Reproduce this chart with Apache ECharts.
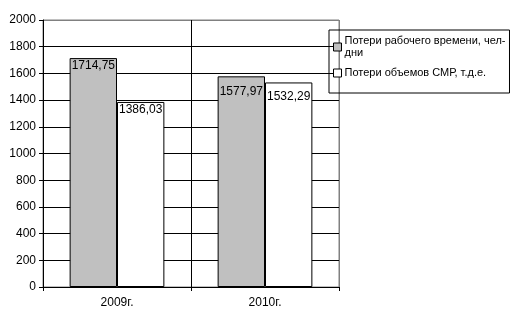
<!DOCTYPE html>
<html><head><meta charset="utf-8">
<script src="https://cdn.jsdelivr.net/npm/echarts@6/dist/echarts.min.js"></script>
<style>html,body{margin:0;padding:0;background:#fff}#c{width:515px;height:323px}</style>
</head><body><div id="c"></div>
<script>
const categories = ['2009г.', '2010г.'];
const seriesNames = ['Потери рабочего времени, чел-дни', 'Потери объемов СМР, т.д.е.'];
const lostTime = [1714.75, 1577.97];
const lostVolume = [1386.03, 1532.29];
const yTicks = [0, 200, 400, 600, 800, 1000, 1200, 1400, 1600, 1800, 2000];

const fmt = v => v.toFixed(2).replace('.', ',');
const font = 'Liberation Sans';
const labelDist = [[2, 9], [2, 8]];

function items(vals, si) {
  return vals.map((v, i) => ({
    value: v,
    label: { distance: labelDist[si][i] }
  }));
}

const chart = echarts.init(document.getElementById('c'), null, {renderer: 'canvas'});
chart.setOption({
  animation: false,
  backgroundColor: '#fff',
  textStyle: { fontFamily: font },
  grid: { left: 43, top: 20, right: 176, bottom: 36, show: true, borderColor: '#808080', borderWidth: 1 },
  legend: {
    orient: 'vertical', left: 329, top: 30, width: 180,
    borderColor: '#000', borderWidth: 1, padding: [5, 4, 14, 4],
    itemWidth: 8, itemHeight: 8, itemGap: 8, icon: 'rect',
    itemStyle: { borderWidth: 1, borderColor: '#000' },
    textStyle: { fontFamily: font, fontSize: 11, color: '#000', lineHeight: 12, padding: [0, 0, 0, -2] },
    formatter: n => n === seriesNames[0] ? 'Потери рабочего времени, чел-\nдни' : n,
    data: seriesNames
  },
  xAxis: {
    type: 'category', data: categories,
    axisLine: { lineStyle: { color: '#000', width: 1 } },
    axisTick: { show: true, length: 4, lineStyle: { color: '#000' } },
    axisLabel: { color: '#000', fontSize: 12, fontFamily: font, margin: 10 },
    splitLine: { show: true, lineStyle: { color: ['#000', '#000', '#808080'], width: 1 } }
  },
  yAxis: {
    type: 'value', min: yTicks[0], max: yTicks[yTicks.length - 1], interval: yTicks[1] - yTicks[0],
    axisLine: { show: true, lineStyle: { color: '#000', width: 1 } },
    axisTick: { show: true, length: 4, lineStyle: { color: '#000' } },
    axisLabel: { color: '#000', fontSize: 12, fontFamily: font, margin: 7, formatter: v => String(v) },
    splitLine: { show: true, lineStyle: { color: ['#000','#000','#000','#000','#000','#000','#000','#000','#000','#000','#808080'], width: 1 } }
  },
  series: [
    {
      name: seriesNames[0], type: 'bar', data: items(lostTime, 0),
      barGap: '0%', barCategoryGap: '36%',
      itemStyle: { color: '#c0c0c0', borderColor: '#000', borderWidth: 1 },
      label: { show: true, position: 'insideTop', formatter: p => fmt(p.value), color: '#000', fontSize: 12, fontFamily: font }
    },
    {
      name: seriesNames[1], type: 'bar', data: items(lostVolume, 1),
      itemStyle: { color: '#ffffff', borderColor: '#000', borderWidth: 1 },
      label: { show: true, position: 'insideTop', formatter: p => fmt(p.value), color: '#000', fontSize: 12, fontFamily: font }
    }
  ]
});
</script></body></html>
